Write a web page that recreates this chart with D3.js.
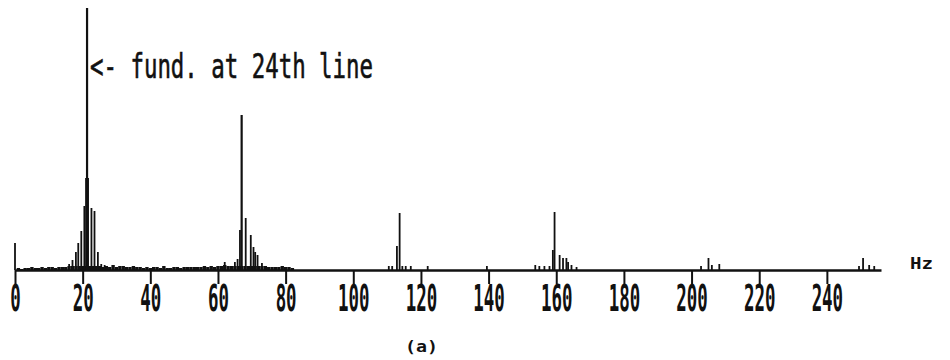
<!DOCTYPE html>
<html>
<head>
<meta charset="utf-8">
<script src="https://cdn.jsdelivr.net/npm/d3@7"></script>
<style>
	body { margin: 0; background: #fff; }
	svg { display: block; }
</style>
</head>
<body>
<script>
// spectrum: frequency (Hz) and height of each line
var spikeHz = [0,
	16, 17, 18, 18.7, 19.6, 20.5, 21.0, 21.3, 21.6, 22.6, 23.5, 24.5, 25.5, 26.5,
	62, 65, 65.8, 66.5, 67.0, 68.2, 69.7, 70.5, 71.0, 71.7, 73.0,
	110.5, 111.5, 112.9, 113.7, 114.5, 115.5, 117, 122,
	139.5,
	153.8, 155, 156.5, 158, 159, 159.5, 161, 162, 163, 163.5, 164.5, 166,
	202.8, 205, 206, 208.2,
	249.5, 250.7, 252.5, 254];
var spikeAmp = [27,
	6, 10, 18, 27, 39, 64, 92, 262, 92, 62, 59, 18, 6, 5,
	8, 8, 11, 40, 155, 52, 35, 23, 18, 15, 7,
	4, 4, 24, 57, 4, 4, 4, 4,
	4,
	5, 4, 4, 4, 20, 58, 15, 12, 12, 8, 5, 3,
	4, 12, 5, 6,
	4, 12, 5, 4];

// low level floor between 1 and 82 Hz (one value per Hz)
var noiseAmp = [
	2, 1, 2, 2, 3, 2, 2, 3, 2, 3,
	3, 2, 3, 3, 3, 4, 4, 4, 4, 4,
	4, 4, 4, 4, 4, 3, 4, 3, 5, 3,
	4, 4, 3, 3, 4, 3, 3, 2, 3, 2,
	3, 3, 2, 4, 2, 2, 3, 3, 2, 3,
	3, 3, 3, 3, 3, 4, 3, 4, 3, 4,
	4, 5, 4, 4, 4, 4, 4, 4, 4, 4,
	4, 4, 4, 4, 3, 3, 3, 3, 4, 3,
	3, 2];

var tickVals = [0, 20, 40, 60, 80, 100, 120, 140, 160, 180, 200, 220, 240];

var width = 950,
	height = 360,
	base = 270;

var x = d3.scaleLinear().domain([0, 256]).range([15, 881]);
var y = d3.scaleLinear().domain([0, 262]).range([base, 8]);

var svg = d3.select("body").append("svg")
	.attr("width", width)
	.attr("height", height);

svg.append("rect")
	.attr("width", width)
	.attr("height", height)
	.attr("fill", "#fff");

// noise floor
svg.selectAll("rect.noise")
	.data(noiseAmp)
	.enter()
	.append("rect")
	.attr("class", "noise")
	.attr("x", function (d, i) { return x(i + 0.5); })
	.attr("width", function (d, i) { return x(i + 1.5) - x(i + 0.5); })
	.attr("y", function (d) { return y(d); })
	.attr("height", function (d) { return base - y(d); })
	.attr("fill", "#111");

// spectral lines
svg.selectAll("line.spike")
	.data(spikeHz)
	.enter()
	.append("line")
	.attr("class", "spike")
	.attr("x1", function (d) { return x(d); })
	.attr("x2", function (d) { return x(d); })
	.attr("y1", base)
	.attr("y2", function (d, i) { return y(spikeAmp[i]); })
	.attr("stroke", "#111")
	.attr("stroke-width", function (d, i) { return spikeAmp[i] > 100 ? 2.2 : 1.8; });

// x axis
var axis = svg.append("g")
	.attr("transform", "translate(0," + base + ")")
	.call(d3.axisBottom(x).tickValues(tickVals).tickSize(14).tickSizeOuter(0).tickFormat(d3.format("d")));

axis.select(".domain")
	.attr("stroke", "#111")
	.attr("stroke-width", 2.6);

axis.selectAll(".tick line")
	.attr("stroke", "#111")
	.attr("stroke-width", 2);

axis.selectAll(".tick text")
	.attr("y", 41)
	.attr("dy", 0)
	.attr("fill", "#111")
	.attr("font-family", "DejaVu Sans Mono")
	.attr("font-weight", "bold")
	.attr("font-size", 37)
	.attr("textLength", function (d) { return String(d).length * 10.5; })
	.attr("lengthAdjust", "spacingAndGlyphs");

// unit label
svg.append("text")
	.attr("x", 910)
	.attr("y", 269)
	.attr("font-family", "DejaVu Sans Mono")
	.attr("font-weight", "bold")
	.attr("font-size", 16)
	.attr("textLength", 23)
	.attr("lengthAdjust", "spacingAndGlyphs")
	.attr("fill", "#111")
	.text("Hz");

// annotation next to the fundamental
svg.append("text")
	.attr("x", 90)
	.attr("y", 78)
	.attr("font-family", "DejaVu Sans Mono")
	.attr("font-size", 33)
	.attr("textLength", 283)
	.attr("lengthAdjust", "spacingAndGlyphs")
	.attr("fill", "#111")
	.attr("stroke", "#111")
	.attr("stroke-width", 0.6)
	.text("<- fund. at 24th line");

// panel caption
svg.append("text")
	.attr("x", 405)
	.attr("y", 352)
	.attr("font-family", "DejaVu Sans Mono")
	.attr("font-weight", "bold")
	.attr("font-size", 15)
	.attr("textLength", 33)
	.attr("lengthAdjust", "spacingAndGlyphs")
	.attr("fill", "#111")
	.text("(a)");
</script>
</body>
</html>
